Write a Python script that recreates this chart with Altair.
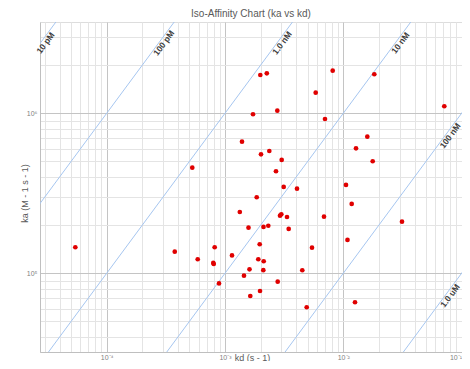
import altair as alt
import pandas as pd

# ---- data ----
kd = [5.43e-5, 3.76e-4, 5.88e-4, 8.18e-4, 7.96e-4, 8.03e-4, 8.90e-4, 1.146e-3,
      5.29e-4, 1.334e-3, 1.392e-3, 1.447e-3, 1.580e-3, 1.611e-3, 1.636e-3,
      1.725e-3, 1.854e-3, 1.912e-3, 1.965e-3, 1.977e-3, 1.988e-3, 2.015e-3,
      2.116e-3, 2.124e-3, 2.108e-3, 2.256e-3, 2.323e-3, 2.369e-3, 2.698e-3,
      2.768e-3, 2.790e-3, 2.917e-3, 2.992e-3, 3.015e-3, 3.135e-3, 3.343e-3,
      3.455e-3, 4.061e-3, 4.502e-3, 4.905e-3, 5.438e-3, 5.845e-3, 6.869e-3,
      7.003e-3, 8.137e-3, 1.054e-2, 1.085e-2, 1.178e-2, 1.256e-2, 1.281e-2,
      1.596e-2, 1.772e-2, 1.828e-2, 3.134e-2, 7.142e-2]
ka = [1.454e5, 1.365e5, 1.223e5, 1.454e5, 1.160e5, 1.143e5, 8.64e4, 1.292e5,
      4.571e5, 2.416e5, 6.645e5, 9.66e4, 1.928e5, 1.059e5, 7.21e4,
      9.857e5, 2.985e5, 1.223e5, 1.518e5, 7.75e4, 1.735e6, 5.54e5,
      1.947e5, 1.189e5, 1.046e5, 1.778e6, 1.981e5, 5.81e5, 4.341e5,
      1.038e6, 8.86e4, 2.291e5, 2.337e5, 5.107e5, 3.463e5, 2.248e5,
      1.892e5, 3.379e5, 1.044e5, 6.13e4, 1.445e5, 1.345e6, 2.258e5,
      9.21e5, 1.847e6, 3.564e5, 1.615e5, 2.711e5, 6.59e4, 6.04e5,
      7.14e5, 5.012e5, 1.753e6, 2.101e5, 1.106e6]

iso_KD = [1e-11, 1e-10, 1e-9, 1e-8, 1e-7, 1e-6]
iso_labels = ["10 pM", "100 pM", "1.0 nM", "10 nM", "100 nM", "1.0 uM"]
iso_label_ka = [2.85e6, 2.85e6, 2.85e6, 2.85e6, 7.5e5, 7.5e4]
line_kd_ends = [1e-6, 1.0]

x_domain = [2.73e-5, 0.1008]
y_domain = [3.22e4, 3.72e6]

x_major = [1e-4, 1e-3, 1e-2, 1e-1]
x_major_labels = ["10⁻⁴", "10⁻³", "10⁻²", "10⁻¹"]
y_major = [1e5, 1e6]
y_major_labels = ["10⁵", "10⁶"]

# ---- tables ----
points = pd.DataFrame({"kd": kd, "ka": ka})
lines = pd.DataFrame([{"KD": K, "kd": e} for K in iso_KD for e in line_kd_ends])
labels = pd.DataFrame({"KD": iso_KD, "label": iso_labels, "ka": iso_label_ka})

def grid_values(lo, hi, pmin, pmax):
    vals = []
    for p in range(pmin, pmax + 1):
        for m in range(1, 10):
            v = float(f"{m}e{p}")
            if lo <= v <= hi:
                vals.append(v)
    return vals

x_vals = grid_values(x_domain[0], x_domain[1], -5, -1)
y_vals = grid_values(y_domain[0], y_domain[1], 4, 6)

def label_expr(majors, texts):
    arr = "[" + ",".join(repr(v) for v in majors) + "]"
    tarr = "[" + ",".join("'" + t + "'" for t in texts) + "]"
    return f"indexof({arr}, datum.value) >= 0 ? {tarr}[indexof({arr}, datum.value)] : ''"

def grid_color(majors):
    arr = "[" + ",".join(repr(v) for v in majors) + "]"
    return {"condition": {"test": f"indexof({arr}, datum.value) >= 0", "value": "#c4c4c4"},
            "value": "#e4e4e4"}

FONT = "Liberation Sans"

x_axis = alt.Axis(values=x_vals, grid=True, gridColor=grid_color(x_major), gridWidth=1,
                  ticks=False, domainColor="#bfbfbf", labelExpr=label_expr(x_major, x_major_labels),
                  labelFontSize=7, labelColor="#7f7f7f", labelPadding=1, labelFont=FONT,
                  labelOverlap=False, labelFlush=True,
                  title="kd (s - 1)", titleFontSize=9, titleColor="#595959", titleFont=FONT,
                  titleFontWeight="normal", titleX=212, titleY=5, titleBaseline="middle",
                  titleAlign="center")
y_axis = alt.Axis(values=y_vals, grid=True, gridColor=grid_color(y_major), gridWidth=1,
                  ticks=False, domainColor="#bfbfbf", labelExpr=label_expr(y_major, y_major_labels),
                  labelFontSize=7, labelColor="#7f7f7f", labelPadding=3, labelFont=FONT,
                  labelOverlap=False, labelFlush=False,
                  title="ka (M - 1 s - 1)", titleFontSize=9, titleColor="#595959", titleFont=FONT,
                  titleFontWeight="normal", titleX=-16, titleY=171, titleAngle=270,
                  titleBaseline="middle", titleAlign="center")

X = alt.X("kd:Q", scale=alt.Scale(type="log", domain=x_domain, nice=False), axis=x_axis)
Y = alt.Y("ka:Q", scale=alt.Scale(type="log", domain=y_domain, nice=False), axis=y_axis)

iso = alt.Chart(lines).transform_calculate(
    ka="datum.kd / datum.KD"
).mark_line(color="#a6c6f0", strokeWidth=1, clip=True).encode(
    x=X, y=Y, detail="KD:N"
)

iso_text = alt.Chart(labels).transform_calculate(
    kd="datum.KD * datum.ka"
).mark_text(angle=306.4, align="center", baseline="top", fontSize=8.5, fontWeight="bold",
            font=FONT, color="#404040").encode(
    x=X, y=Y, text="label:N"
)

pts = alt.Chart(points).mark_circle(color="#e00000", size=22, opacity=1).encode(x=X, y=Y)

chart = alt.layer(iso, iso_text, pts).properties(
    width=422, height=330,
    title=alt.TitleParams("Iso-Affinity Chart (ka vs kd)", fontSize=10, font=FONT,
                          color="#595959", fontWeight="normal", anchor="middle", dx=0, offset=3),
    autosize=alt.AutoSizeParams(type="none"),
    padding={"left": 32, "top": 14, "right": 0, "bottom": 9},
).configure_view(stroke="#c8c8c8").configure(background="white")

chart.save("out.html", embed_options={"renderer": "svg", "actions": False})
